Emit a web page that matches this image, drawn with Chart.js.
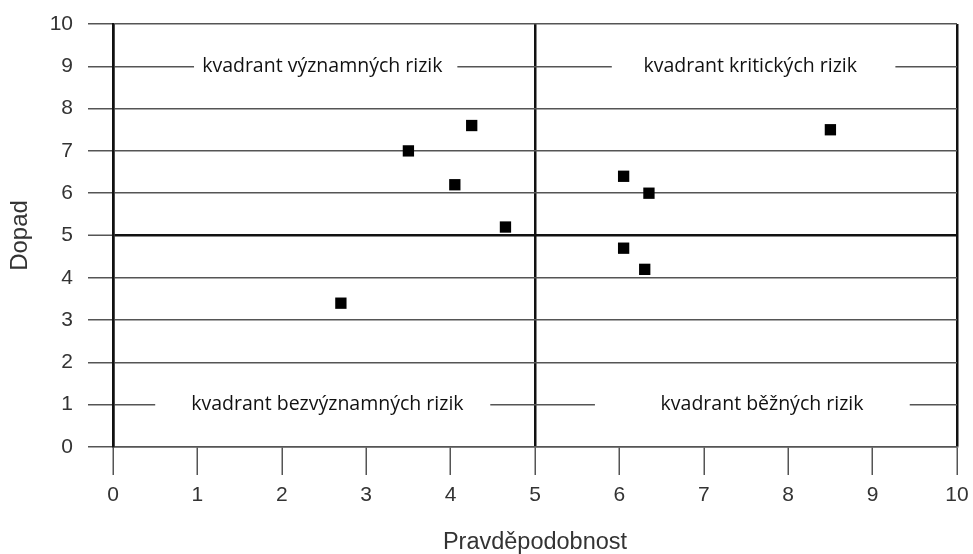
<!DOCTYPE html>
<html>
<head>
<meta charset="utf-8">
<script src="https://cdn.jsdelivr.net/npm/chart.js@4/dist/chart.umd.min.js"></script>
<style>
  html, body { margin: 0; padding: 0; background: #fff; }
</style>
</head>
<body>
<canvas id="riskChart" width="973" height="554"></canvas>
<script>
// rizika: pravděpodobnost (x) a dopad (y)
const pravdepodobnost = [3.5, 4.25, 4.05, 4.65, 2.7, 6.05, 6.35, 6.05, 6.3, 8.5];
const dopad = [7.0, 7.6, 6.2, 5.2, 3.4, 6.4, 6.0, 4.7, 4.2, 7.5];
const xTicks = [0, 1, 2, 3, 4, 5, 6, 7, 8, 9, 10];
const yTicks = [0, 1, 2, 3, 4, 5, 6, 7, 8, 9, 10];
const quadrantNames = ['kvadrant významných rizik', 'kvadrant kritických rizik',
    'kvadrant bezvýznamných rizik', 'kvadrant běžných rizik'];

const points = pravdepodobnost.map((x, i) => ({x: x, y: dopad[i]}));

// popisky kvadrantů s bílým podkladem přes mřížku
const quadrantLabels = {
    id: 'quadrantLabels',
    afterDatasetsDraw(chart, args, opts) {
        const {ctx, scales: {x, y}} = chart;
        ctx.save();
        ctx.font = opts.font;
        ctx.textAlign = 'center';
        ctx.textBaseline = 'middle';
        opts.items.forEach((item) => {
            const x1 = x.getPixelForValue(item.gap[0]);
            const x2 = x.getPixelForValue(item.gap[1]);
            const py = y.getPixelForValue(item.y);
            ctx.fillStyle = '#fff';
            ctx.fillRect(x1, py - 4, x2 - x1, 8);
            ctx.fillStyle = '#111';
            ctx.fillText(quadrantNames[item.i], x.getPixelForValue(item.x), py);
        });
        ctx.restore();
    }
};

// pevné rozměry os, bez přesahu krajních popisků
const fixX = (scale) => {
    scale.height = 107;
    scale.paddingRight = 0;
    scale.paddingLeft = 0;
};
const fixY = (scale) => {
    scale.width = 113;
    scale.paddingTop = 0;
    scale.paddingBottom = 0;
};

new Chart(document.getElementById('riskChart'), {
    type: 'scatter',
    data: {
        datasets: [{
            label: 'Rizika',
            data: points,
            pointStyle: 'rect',
            pointRadius: 8,
            pointHoverRadius: 8,
            backgroundColor: '#000',
            borderColor: '#000',
            borderWidth: 0
        }]
    },
    options: {
        responsive: false,
        animation: false,
        layout: {padding: {top: 24, right: 16}},
        plugins: {
            legend: {display: false},
            tooltip: {enabled: false},
            quadrantLabels: {
                font: '19.5px "Open Sans"',
                items: [
                    {i: 0, x: 2.48, y: 9, gap: [0.96, 4.08]},
                    {i: 1, x: 7.55, y: 9, gap: [5.91, 9.27]},
                    {i: 2, x: 2.54, y: 1, gap: [0.5, 4.47]},
                    {i: 3, x: 7.69, y: 1, gap: [5.71, 9.44]}
                ]
            }
        },
        scales: {
            x: {
                type: 'linear',
                min: 0,
                max: 10,
                afterFit: fixX,
                afterBuildTicks: (axis) => { axis.ticks = xTicks.map((v) => ({value: v})); },
                ticks: {
                    color: '#333',
                    font: {family: 'Liberation Sans', size: 21},
                    padding: 8
                },
                grid: {
                    color: (c) => (c.tick && (c.tick.value === 5 || c.tick.value === 10 || c.tick.value === 0)) ? '#111' : 'rgba(0,0,0,0)',
                    lineWidth: 2.5,
                    tickColor: '#555',
                    tickWidth: 1.5,
                    tickLength: 28
                },
                border: {display: true, color: '#555', width: 1.5},
                title: {
                    display: true,
                    text: 'Pravděpodobnost',
                    color: '#333',
                    font: {family: 'Liberation Sans', size: 23.5, lineHeight: 0.6},
                    padding: {top: 0}
                }
            },
            y: {
                type: 'linear',
                min: 0,
                max: 10,
                afterFit: fixY,
                afterBuildTicks: (axis) => { axis.ticks = yTicks.map((v) => ({value: v})); },
                ticks: {
                    color: '#333',
                    font: {family: 'Liberation Sans', size: 21},
                    padding: 15
                },
                grid: {
                    color: (c) => (c.tick && c.tick.value === 5) ? '#111' : '#555',
                    lineWidth: (c) => (c.tick && c.tick.value === 5) ? 2.5 : 1.5,
                    tickColor: '#555',
                    tickWidth: 1.5,
                    tickLength: 25
                },
                border: {display: true, color: '#111', width: 2.5},
                title: {
                    display: true,
                    text: 'Dopad',
                    color: '#333',
                    font: {family: 'Liberation Sans', size: 24, lineHeight: 1},
                    padding: {top: 8, bottom: 10}
                }
            }
        }
    },
    plugins: [quadrantLabels]
});
</script>
</body>
</html>
